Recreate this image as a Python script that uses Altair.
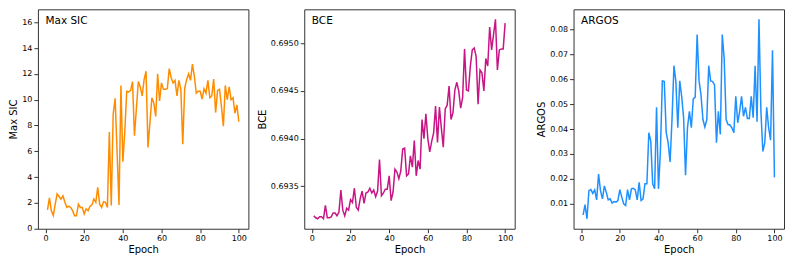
import altair as alt
import pandas as pd

epochs = list(range(1, 101))

max_sic = [1.46, 2.4, 1.4, 1.03, 1.9, 2.7, 2.5, 2.3, 2.55, 2.05,
           1.65, 1.75, 1.65, 1.4, 1.0, 1.0, 1.9, 1.65, 1.65, 1.15,
           1.55, 1.4, 1.75, 1.85, 2.3, 2.05, 3.2, 1.9, 1.65, 2.1,
           2.05, 1.65, 7.5, 1.8, 8.9, 10.1, 6.0, 1.85, 11.1, 5.2,
           7.5, 10.65, 10.6, 10.7, 11.4, 7.2, 9.3, 11.4, 11.0, 10.3,
           11.55, 12.2, 6.3, 8.2, 10.15, 9.75, 8.7, 12.0, 9.9, 11.3,
           10.8, 10.8, 10.85, 12.4, 11.7, 11.3, 11.5, 10.3, 11.5, 10.8,
           6.55, 10.9, 11.55, 12.0, 11.5, 12.75, 11.8, 10.5, 10.65, 10.65,
           10.05, 10.85, 10.5, 11.5, 10.15, 10.3, 11.6, 9.0, 10.7, 10.8,
           9.5, 7.95, 11.1, 10.0, 11.0, 10.0, 10.15, 8.95, 9.6, 8.3]

bce = [0.69319, 0.69317, 0.69316, 0.69318, 0.69318, 0.69316, 0.69330, 0.69317, 0.69317, 0.69318,
       0.69322, 0.69322, 0.69319, 0.69323, 0.69346, 0.69325, 0.69319, 0.69327, 0.69325, 0.69336,
       0.69333, 0.69348, 0.69328, 0.69325, 0.69337, 0.69345, 0.69332, 0.69343, 0.69344, 0.69348,
       0.69343, 0.69346, 0.69339, 0.69345, 0.69378, 0.69340, 0.69343, 0.69347, 0.69347, 0.69361,
       0.69335, 0.69344, 0.69368, 0.69365, 0.69358, 0.69366, 0.69389, 0.69390, 0.69361, 0.69363,
       0.69382, 0.69370, 0.69398, 0.69361, 0.69377, 0.69368, 0.69420, 0.69400, 0.69426, 0.69400,
       0.69386, 0.69397, 0.69406, 0.69434, 0.69396, 0.69433, 0.69411, 0.69391, 0.69431, 0.69435,
       0.69455, 0.69420, 0.69427, 0.69451, 0.69459, 0.69450, 0.69432, 0.69443, 0.69494, 0.69451,
       0.69450, 0.69476, 0.69493, 0.69495, 0.69486, 0.69436, 0.69472, 0.69469, 0.69450, 0.69484,
       0.69476, 0.69517, 0.69493, 0.69509, 0.69525, 0.69472, 0.69493, 0.69494, 0.69494, 0.69521]

argos = [0.0056, 0.0097, 0.0040, 0.0153, 0.0157, 0.0142, 0.0156, 0.0116, 0.0219, 0.0153,
         0.0120, 0.0172, 0.0146, 0.0116, 0.0120, 0.0103, 0.0109, 0.0107, 0.0113, 0.0157,
         0.0127, 0.0100, 0.0093, 0.0157, 0.0116, 0.0160, 0.0162, 0.0156, 0.0116, 0.0186,
         0.0113, 0.0120, 0.0180, 0.0180, 0.0385, 0.0352, 0.0180, 0.0160, 0.0487, 0.0160,
         0.0312, 0.0593, 0.0590, 0.0385, 0.0345, 0.0268, 0.0438, 0.0654, 0.0590, 0.0405,
         0.0593, 0.0531, 0.0445, 0.0215, 0.0405, 0.0471, 0.0405, 0.0521, 0.0528, 0.0779,
         0.0593, 0.0537, 0.0438, 0.0408, 0.0438, 0.0654, 0.0593, 0.0590, 0.0577, 0.0345,
         0.0471, 0.0378, 0.0779, 0.0683, 0.0438, 0.0418, 0.0416, 0.0405, 0.0385, 0.0531,
         0.0425, 0.0471, 0.0531, 0.0451, 0.0487, 0.0442, 0.0442, 0.0531, 0.0445, 0.0654,
         0.0429, 0.0840, 0.0471, 0.0310, 0.0345, 0.0487, 0.0405, 0.0355, 0.0716, 0.0206]

x_ticks = [0, 20, 40, 60, 80, 100]
sic_ticks = [0, 2, 4, 6, 8, 10, 12, 14, 16]
bce_ticks = [0.6935, 0.6940, 0.6945, 0.6950]
argos_ticks = [0.01, 0.02, 0.03, 0.04, 0.05, 0.06, 0.07, 0.08]

FONT = "DejaVu Sans"


def panel(values, name, color, ydomain, yticks, fmt):
    df = pd.DataFrame({"Epoch": epochs, "value": values})
    line = alt.Chart(df).mark_line(color=color, strokeWidth=1.5).encode(
        x=alt.X("Epoch:Q",
                scale=alt.Scale(domain=[-3.95, 104.95], nice=False, zero=False),
                axis=alt.Axis(values=x_ticks, title="Epoch", titlePadding=2)),
        y=alt.Y("value:Q",
                scale=alt.Scale(domain=ydomain, nice=False, zero=False),
                axis=alt.Axis(values=yticks, format=fmt, title=name, titlePadding=3)),
    )
    label = alt.Chart(pd.DataFrame({"t": [name]})).mark_text(
        align="left", baseline="alphabetic", fontSize=10.5, font=FONT, color="black"
    ).encode(x=alt.value(7.6), y=alt.value(14.4), text="t:N")
    return alt.layer(line, label).properties(width=211, height=220)


p1 = panel(max_sic, "Max SIC", "#FF8C00", [0, 17], sic_ticks, "d")
p2 = panel(bce, "BCE", "#C71585", [0.693055, 0.695355], bce_ticks, ".4f")
p3 = panel(argos, "ARGOS", "#1E90FF", [0.0, 0.088], argos_ticks, ".2f")

chart = alt.hconcat(
    alt.hconcat(p1, p2, spacing=7), p3, spacing=20
).properties(
    padding={"left": 0, "top": 0, "right": 0, "bottom": 0}
).configure_view(
    stroke="#333333", strokeWidth=1
).configure_axis(
    labelFont=FONT, labelFontSize=8, labelColor="black",
    titleFont=FONT, titleFontSize=10, titleFontWeight="normal", titleColor="black",
    tickColor="#333333", tickSize=4, labelPadding=2, domain=False, grid=False
)

chart.save("out.html", embed_options={"renderer": "svg", "actions": False})
